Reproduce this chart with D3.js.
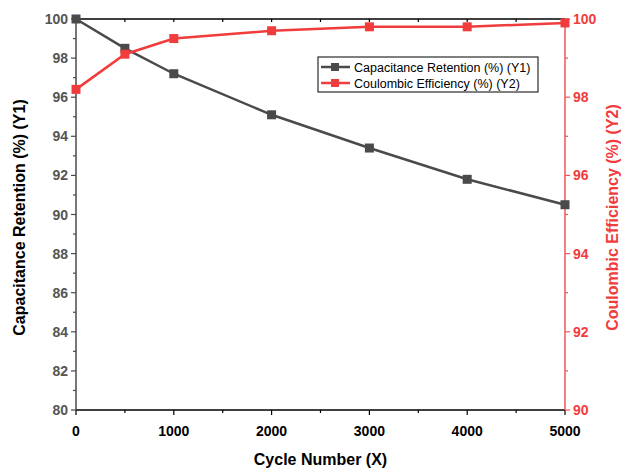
<!DOCTYPE html>
<html><head><meta charset="utf-8">
<script src="https://cdn.jsdelivr.net/npm/d3@7"></script>
<style>body{margin:0;background:#fff}svg{display:block;font-family:"Liberation Sans",Arial,sans-serif}</style>
</head><body><svg id="c" width="621" height="468"></svg>
<script>
const cycles = [0, 500, 1000, 2000, 3000, 4000, 5000];
const retention = [100, 98.5, 97.2, 95.1, 93.4, 91.8, 90.5];
const efficiency = [98.2, 99.1, 99.5, 99.7, 99.8, 99.8, 99.9];
const xTicks = [0, 1000, 2000, 3000, 4000, 5000];
const y1Ticks = [80, 82, 84, 86, 88, 90, 92, 94, 96, 98, 100];
const y2Ticks = [90, 92, 94, 96, 98, 100];
const seriesNames = ["Capacitance Retention (%) (Y1)", "Coulombic Efficiency (%) (Y2)"];

const gray = "#4a4a4a", red = "#f03c3c";
const L = 76, R = 565, T = 19, B = 410;
const svg = d3.select("#c");
const x = d3.scaleLinear().domain([0, 5000]).range([L, R]);
const y1 = d3.scaleLinear().domain([80, 100]).range([B, T]);
const y2 = d3.scaleLinear().domain([90, 100]).range([B, T]);

// top border with inward minor ticks
svg.append("line").attr("x1", L).attr("x2", R).attr("y1", T).attr("y2", T).attr("stroke", "#000").attr("stroke-width", 1.5);
d3.range(0, 5001, 500).forEach(v => {
  svg.append("line").attr("x1", x(v)).attr("x2", x(v)).attr("y1", T).attr("y2", T + 3).attr("stroke", "#000").attr("stroke-width", 1.2);
});

// x axis
const gx = svg.append("g").attr("transform", `translate(0,${B})`);
gx.append("line").attr("x1", L).attr("x2", R).attr("stroke", "#000").attr("stroke-width", 1.5);
d3.range(0, 5001, 500).forEach(v => {
  const major = v % 1000 === 0;
  gx.append("line").attr("x1", x(v)).attr("x2", x(v)).attr("y1", 0).attr("y2", major ? 5 : 3).attr("stroke", "#000").attr("stroke-width", 1.2);
});
xTicks.forEach(v => gx.append("text").attr("x", x(v)).attr("y", 26).attr("text-anchor", "middle")
  .attr("font-size", 14).attr("font-weight", "bold").attr("fill", "#000").text(v));
svg.append("text").attr("x", (L + R) / 2).attr("y", 465).attr("text-anchor", "middle")
  .attr("font-size", 16).attr("font-weight", "bold").attr("fill", "#000").text("Cycle Number (X)");

// left axis
const gl = svg.append("g");
gl.append("line").attr("x1", L).attr("x2", L).attr("y1", T).attr("y2", B).attr("stroke", gray).attr("stroke-width", 1.5);
d3.range(80, 100.1, 1).forEach(v => {
  const major = v % 2 === 0;
  gl.append("line").attr("x1", L).attr("x2", L - (major ? 5 : 3)).attr("y1", y1(v)).attr("y2", y1(v)).attr("stroke", gray).attr("stroke-width", 1.2);
});
y1Ticks.forEach(v => gl.append("text").attr("x", L - 8).attr("y", y1(v) + 5).attr("text-anchor", "end")
  .attr("font-size", 14).attr("font-weight", "bold").attr("fill", "#555").text(v));
svg.append("text").attr("transform", `translate(25,${(T + B) / 2 + 3}) rotate(-90)`).attr("text-anchor", "middle")
  .attr("font-size", 16).attr("font-weight", "bold").attr("fill", "#000").text("Capacitance Retention (%) (Y1)");

// right axis
const gr = svg.append("g");
gr.append("line").attr("x1", R).attr("x2", R).attr("y1", T).attr("y2", B).attr("stroke", "#f25555").attr("stroke-width", 1.5);
d3.range(90, 100.1, 1).forEach(v => {
  const major = v % 2 === 0;
  gr.append("line").attr("x1", R).attr("x2", R + (major ? 5 : 3)).attr("y1", y2(v)).attr("y2", y2(v)).attr("stroke", "#f25555").attr("stroke-width", 1.2);
});
y2Ticks.forEach(v => gr.append("text").attr("x", R + 8).attr("y", y2(v) + 5).attr("text-anchor", "start")
  .attr("font-size", 14).attr("font-weight", "bold").attr("fill", red).text(v));
svg.append("text").attr("transform", `translate(618,${(T + B) / 2 + 3}) rotate(-90)`).attr("text-anchor", "middle")
  .attr("font-size", 16).attr("font-weight", "bold").attr("fill", red).text("Coulombic Efficiency (%) (Y2)");

// series
function drawSeries(vals, yScale, color) {
  const pts = cycles.map((c, i) => [x(c), yScale(vals[i])]);
  svg.append("path").attr("d", d3.line()(pts)).attr("fill", "none").attr("stroke", color).attr("stroke-width", 2.5);
  svg.append("g").selectAll("rect").data(pts).join("rect")
    .attr("x", d => d[0] - 4.5).attr("y", d => d[1] - 4.5).attr("width", 9).attr("height", 9).attr("fill", color);
}
drawSeries(retention, y1, gray);
drawSeries(efficiency, y2, red);

// legend
const lg = svg.append("g");
lg.append("rect").attr("x", 318).attr("y", 57).attr("width", 220).attr("height", 35).attr("fill", "#fff").attr("stroke", "#000").attr("stroke-width", 1);
[[gray, 67], [red, 83]].forEach(([c, yy], i) => {
  lg.append("line").attr("x1", 321).attr("x2", 350).attr("y1", yy).attr("y2", yy).attr("stroke", c).attr("stroke-width", 2.5);
  lg.append("rect").attr("x", 331).attr("y", yy - 4).attr("width", 8).attr("height", 8).attr("fill", c);
  lg.append("text").attr("x", 354).attr("y", yy + 4.5).attr("font-size", 12.5).attr("fill", "#000").text(seriesNames[i]);
});
</script></body></html>
